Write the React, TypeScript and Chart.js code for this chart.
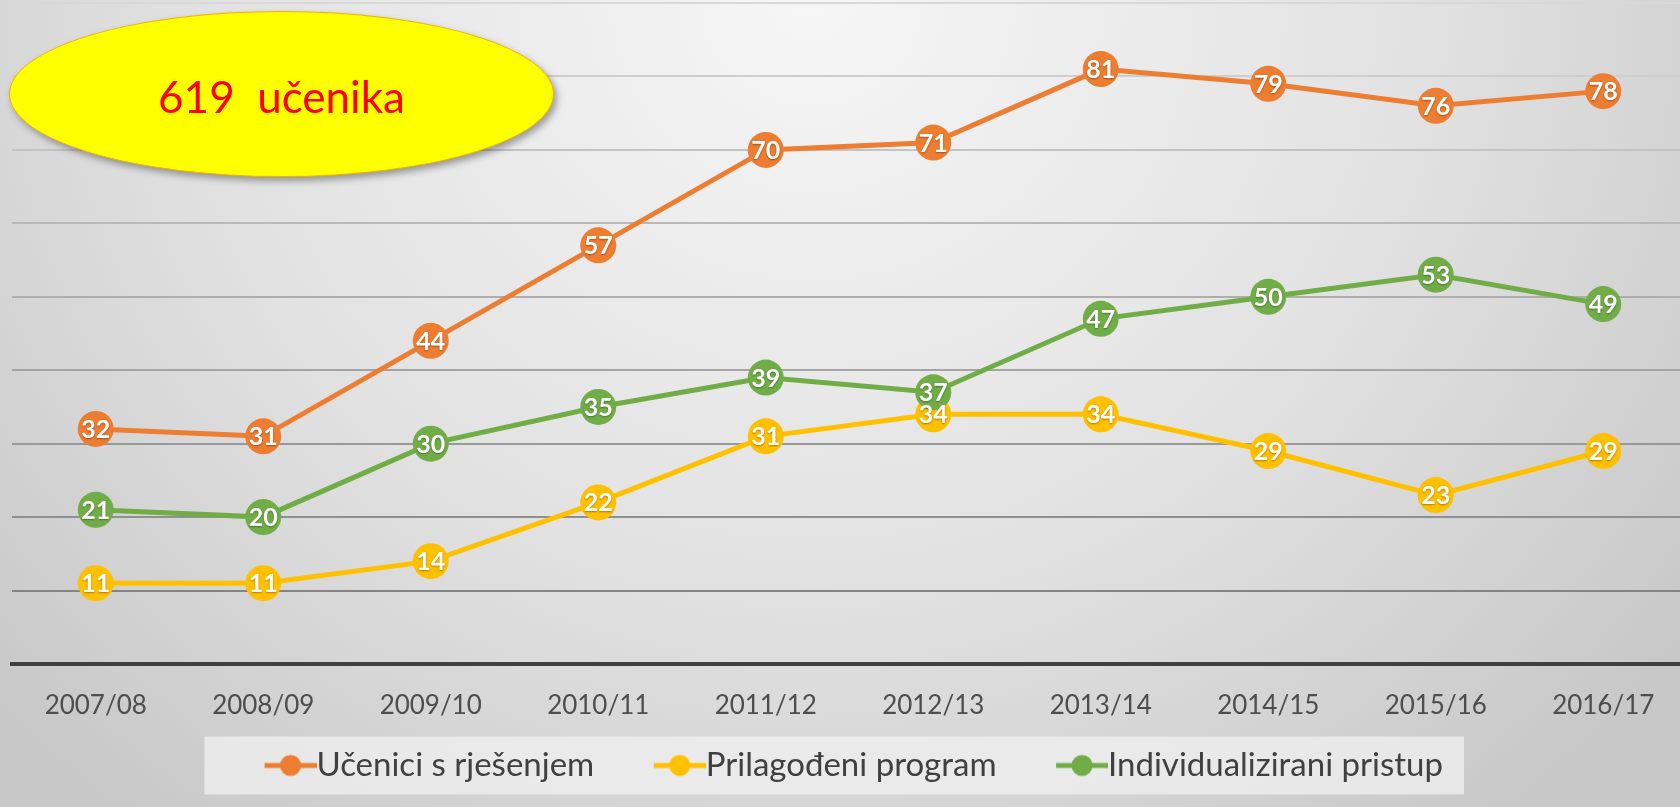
import React, { useEffect, useRef } from "react";
import { Chart, registerables } from "chart.js";

Chart.register(...registerables);

// ---------- data ----------
const categories = [
  "2007/08", "2008/09", "2009/10", "2010/11", "2011/12",
  "2012/13", "2013/14", "2014/15", "2015/16", "2016/17",
];
const seriesNames = ["Učenici s rješenjem", "Prilagođeni program", "Individualizirani pristup"];
const uceniciSRjesenjem = [32, 31, 44, 57, 70, 71, 81, 79, 76, 78];
const prilagodeniProgram = [11, 11, 14, 22, 31, 34, 34, 29, 23, 29];
const individualiziraniPristup = [21, 20, 30, 35, 39, 37, 47, 50, 53, 49];
const seriesColors = ["#ED7D31", "#FFC000", "#70AD47"];
const yMin = 0;
const yMax = 90;
const yStep = 10;
const totalLabel = "619  učenika";

const CANVAS_W = 1690;
const CANVAS_H = 807;
const LEGEND_FONT = 33;
const LEGEND_PAD = 27;
const LEGEND_BOX_W = 68;
const MARKER_IMG_W = 101;

function makeMarker(color: string): HTMLCanvasElement {
  const c = document.createElement("canvas");
  c.width = MARKER_IMG_W;
  c.height = 24;
  const g = c.getContext("2d")!;
  const x0 = MARKER_IMG_W - 52;
  g.strokeStyle = color;
  g.lineWidth = 5;
  g.beginPath();
  g.moveTo(x0, 12);
  g.lineTo(MARKER_IMG_W, 12);
  g.stroke();
  g.fillStyle = color;
  g.beginPath();
  g.arc(x0 + 26, 12, 10.5, 0, Math.PI * 2);
  g.fill();
  return c;
}

const valueLabelsPlugin = {
  id: "valueLabels",
  afterDatasetsDraw(chart: any) {
    const ctx = chart.ctx;
    ctx.save();
    ctx.font = "bold 25px Lato";
    ctx.fillStyle = "#ffffff";
    ctx.textAlign = "center";
    ctx.textBaseline = "middle";
    ctx.shadowColor = "rgba(0,0,0,0.35)";
    ctx.shadowBlur = 2;
    ctx.shadowOffsetY = 1;
    [1, 2, 0].forEach((i) => {
      const ds = chart.data.datasets[i];
      const meta = chart.getDatasetMeta(i);
      meta.data.forEach((pt: any, j: number) => {
        ctx.fillText(String(ds.data[j]), pt.x, pt.y + 1);
      });
    });
    ctx.restore();
  },
};

const legendBoxPlugin = {
  id: "legendBox",
  afterLayout(chart: any) {
    const lg = chart.legend;
    if (lg) {
      lg.left -= 12;
      lg.right -= 12;
    }
  },
  beforeDraw(chart: any) {
    const lg = chart.legend;
    if (!lg || !lg.legendHitBoxes || !lg.legendHitBoxes.length) return;
    const hb = lg.legendHitBoxes;
    const visOffset = LEGEND_BOX_W / 2 - MARKER_IMG_W / 2 + (MARKER_IMG_W - 52);
    const left = Math.min(...hb.map((h: any) => h.left)) + visOffset - 60;
    const right = Math.max(...hb.map((h: any) => h.left + h.width)) + 21;
    const cy = hb[0].top + hb[0].height / 2;
    const ctx = chart.ctx;
    ctx.save();
    ctx.fillStyle = "rgba(240,240,240,0.75)";
    ctx.fillRect(left, cy - 29, right - left, 58);
    ctx.restore();
  },
};

export default function App() {
  const canvasRef = useRef<HTMLCanvasElement | null>(null);

  useEffect(() => {
    if (!canvasRef.current) return;
    const markers = seriesColors.map(makeMarker);
    const seriesData = [uceniciSRjesenjem, prilagodeniProgram, individualiziraniPristup];
    const orders = [0, 2, 1];
    const chart = new Chart(canvasRef.current, {
      type: "line",
      data: {
        labels: categories,
        datasets: seriesNames.map((name, i) => ({
          label: name,
          data: seriesData[i],
          borderColor: seriesColors[i],
          backgroundColor: seriesColors[i],
          pointBackgroundColor: seriesColors[i],
          pointBorderColor: seriesColors[i],
          borderWidth: 5,
          pointRadius: 18,
          pointHoverRadius: 18,
          pointBorderWidth: 0,
          tension: 0,
          fill: false,
          clip: false,
          order: orders[i],
        })),
      },
      options: {
        responsive: false,
        animation: false,
        events: [],
        layout: { autoPadding: false, padding: { left: 12, right: 3, top: 3, bottom: 15 } },
        scales: {
          x: {
            offset: true,
            grid: { display: false, drawTicks: false },
            border: { display: true, color: "#404040", width: 4 },
            ticks: {
              color: "#4d4d4d",
              font: { family: "Lato", size: 26 },
              padding: 26,
              maxRotation: 0,
              autoSkip: false,
            },
            afterFit: (scale: any) => {
              scale.height = 58;
            },
          },
          y: {
            min: yMin,
            max: yMax,
            ticks: { stepSize: yStep, display: false },
            grid: {
              drawTicks: false,
              lineWidth: 2,
              color: (c: any) => {
                const v = c.tick ? c.tick.value : 0;
                if (v === 0) return "rgba(0,0,0,0)";
                const t = (v - 10) / 80;
                const g = Math.round(132 + t * 84);
                return `rgb(${g},${g},${g})`;
              },
            },
            border: { display: false },
          },
        },
        plugins: {
          tooltip: { enabled: false },
          legend: {
            display: true,
            position: "bottom",
            labels: {
              usePointStyle: true,
              pointStyleWidth: LEGEND_BOX_W,
              padding: LEGEND_PAD,
              color: "#404040",
              font: { family: "Lato", size: LEGEND_FONT },
              generateLabels: (ch: any) => {
                const items = (Chart.defaults.plugins.legend.labels as any).generateLabels(ch);
                return items
                  .sort((a: any, b: any) => a.datasetIndex - b.datasetIndex)
                  .map((it: any) => ({ ...it, pointStyle: markers[it.datasetIndex], fontColor: "#404040" }));
              },
            },
          },
        },
      },
      plugins: [valueLabelsPlugin, legendBoxPlugin],
    } as any);
    return () => chart.destroy();
  }, []);

  return (
    <div
      style={{
        position: "fixed",
        left: 0,
        top: 0,
        width: CANVAS_W,
        height: CANVAS_H,
        overflow: "hidden",
        background:
          "radial-gradient(ellipse 65% 130% at 48% 0%, #f6f6f6 0%, #e2e2e2 55%, #c8c8c8 100%)",
      }}
    >
      <canvas
        ref={canvasRef}
        width={CANVAS_W}
        height={CANVAS_H}
        style={{ position: "absolute", left: 0, top: 0, width: CANVAS_W, height: CANVAS_H }}
      />
      <div
        style={{
          position: "absolute",
          left: 9,
          top: 11,
          width: 545,
          height: 166,
          boxSizing: "border-box",
          borderRadius: "50%",
          background: "#ffff00",
          border: "1.5px solid #F2B200",
          boxShadow: "3px 4px 7px rgba(0,0,0,0.35)",
          display: "flex",
          alignItems: "center",
          justifyContent: "center",
          color: "#ff0000",
          fontFamily: "Lato, sans-serif",
          fontSize: 44,
          whiteSpace: "pre",
          paddingTop: 4,
        }}
      >
        {totalLabel}
      </div>
    </div>
  );
}
